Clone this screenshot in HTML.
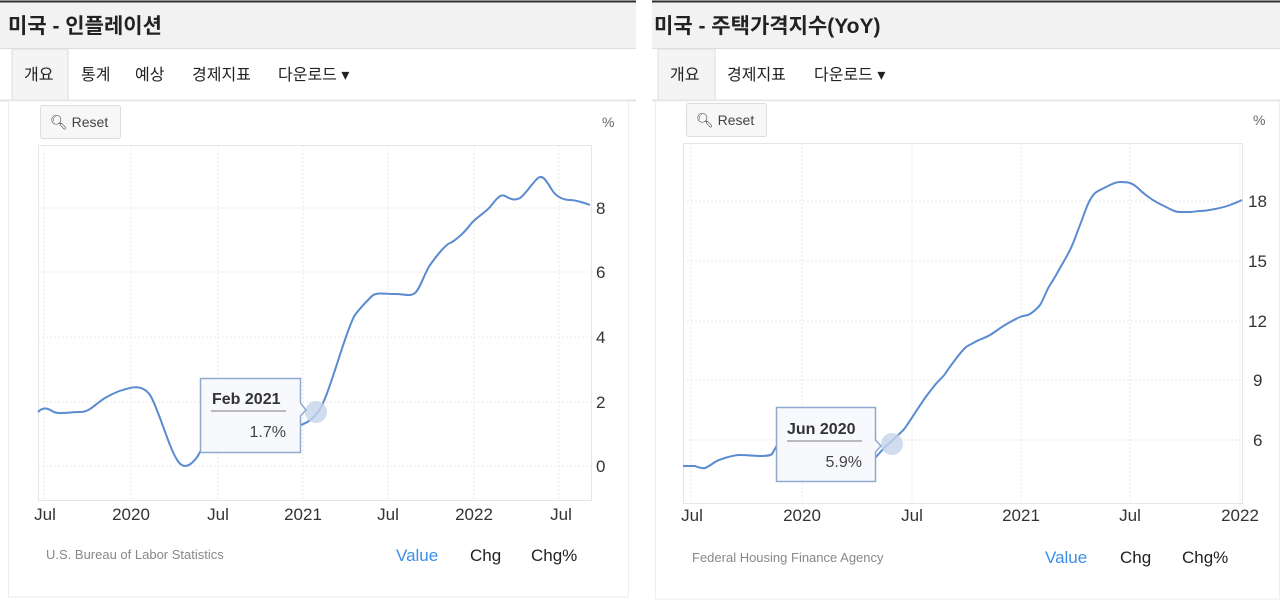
<!DOCTYPE html>
<html><head><meta charset="utf-8"><style>
html,body{margin:0;padding:0;background:#fff;}
svg{display:block;font-family:"Liberation Sans","Noto Sans CJK KR",sans-serif;}
</style></head><body>
<svg width="1280" height="604" viewBox="0 0 1280 604">
<rect width="1280" height="604" fill="#fff"/>
<!-- LEFT PANEL -->
<rect x="0" y="0" width="636" height="48" fill="#f2f2f2"/>
<line x1="0" y1="1.5" x2="636" y2="1.5" stroke="#333" stroke-width="2"/>
<line x1="0" y1="48.5" x2="636" y2="48.5" stroke="#ddd"/>
<text x="8" y="33" font-size="21" font-weight="bold" fill="#222">미국 - 인플레이션</text>
<rect x="12" y="49" width="56" height="52" fill="#f4f4f4" stroke="#ddd"/>
<line x1="0" y1="100.5" x2="636" y2="100.5" stroke="#e2e2e2" stroke-width="2"/>
<g font-size="16" fill="#222">
<text x="24" y="80">개요</text><text x="81" y="80">통계</text><text x="135" y="80">예상</text><text x="192" y="80">경제지표</text><text x="278" y="80">다운로드 ▾</text>
</g>
<rect x="8.5" y="101" width="620" height="496" fill="none" stroke="#eee"/>
<rect x="40.5" y="105.5" width="80" height="33" rx="2" fill="#f7f7f7" stroke="#ddd"/>
<text x="50" y="127" font-size="14" fill="#444">🔍︎ Reset</text>
<text x="602" y="127" font-size="14" fill="#666">%</text>
<g stroke="#eaeaea" stroke-dasharray="2,2">
<line x1="44" y1="145" x2="44" y2="500"/><line x1="131" y1="145" x2="131" y2="500"/><line x1="218" y1="145" x2="218" y2="500"/><line x1="303" y1="145" x2="303" y2="500"/><line x1="388" y1="145" x2="388" y2="500"/><line x1="474" y1="145" x2="474" y2="500"/><line x1="559" y1="145" x2="559" y2="500"/>
<line x1="38" y1="208" x2="592" y2="208"/><line x1="38" y1="272" x2="592" y2="272"/><line x1="38" y1="337" x2="592" y2="337"/><line x1="38" y1="402" x2="592" y2="402"/><line x1="38" y1="466" x2="592" y2="466"/>
</g>
<rect x="38.5" y="145.5" width="553" height="355" fill="none" stroke="#e6e6e6"/>
<g font-size="17" fill="#333">
<text x="596" y="214">8</text><text x="596" y="278">6</text><text x="596" y="343">4</text><text x="596" y="408">2</text><text x="596" y="472">0</text>
</g>
<g font-size="17" fill="#333" text-anchor="middle">
<text x="45" y="520">Jul</text><text x="131" y="520">2020</text><text x="218" y="520">Jul</text><text x="303" y="520">2021</text><text x="388" y="520">Jul</text><text x="474" y="520">2022</text><text x="561" y="520">Jul</text>
</g>
<path d="M38,412 C42,408 46,407 52,411 S70,412 80,412 S95,404 105,398 S122,390 130,388 S145,388 150,395 S164,430 170,445 S180,466 185,466 S196,460 200,452 L205,449 L300,425 C305,424 312,420 318,412 S330,385 335,370 S350,322 355,315 S368,300 372,296 S385,294 395,294 S410,297 415,293 S425,272 430,265 S445,245 450,243 S465,232 470,225 S485,213 490,207 S500,193 505,196 S515,201 520,198 S533,182 538,178 S547,182 552,190 S565,200 570,200 S585,203 590,205" fill="none" stroke="#5b8bd0" stroke-width="2"/>
<circle cx="316" cy="412" r="11" fill="#c5d5ea" opacity="0.8"/>
<path d="M200.5,378.5 H300.5 V403 L306,410 L300.5,416 V452.5 H200.5 Z" fill="#f7f9fc" stroke="#8fa9cf" stroke-width="1.5"/>
<text x="212" y="404" font-size="16" font-weight="bold" fill="#333">Feb 2021</text>
<line x1="211" y1="411" x2="286" y2="411" stroke="#bbb" stroke-width="2"/>
<text x="286" y="437" font-size="16" fill="#444" text-anchor="end">1.7%</text>
<text x="46" y="559" font-size="13" fill="#888">U.S. Bureau of Labor Statistics</text>
<text x="396" y="561" font-size="17" fill="#3a8ee6">Value</text>
<text x="470" y="561" font-size="17" fill="#222">Chg</text>
<text x="531" y="561" font-size="17" fill="#222">Chg%</text>

<!-- RIGHT PANEL -->
<rect x="652" y="0" width="628" height="48" fill="#f2f2f2"/>
<line x1="652" y1="1.5" x2="1280" y2="1.5" stroke="#333" stroke-width="2"/>
<line x1="652" y1="48.5" x2="1280" y2="48.5" stroke="#ddd"/>
<text x="654" y="33" font-size="21" font-weight="bold" fill="#222">미국 - 주택가격지수(YoY)</text>
<rect x="658" y="49" width="57" height="52" fill="#f4f4f4" stroke="#ddd"/>
<line x1="652" y1="100.5" x2="1280" y2="100.5" stroke="#e2e2e2" stroke-width="2"/>
<g font-size="16" fill="#222">
<text x="670" y="80">개요</text><text x="727" y="80">경제지표</text><text x="814" y="80">다운로드 ▾</text>
</g>
<rect x="655.5" y="101" width="624" height="498" fill="none" stroke="#eee"/>
<rect x="686.5" y="103.5" width="80" height="33" rx="2" fill="#f7f7f7" stroke="#ddd"/>
<text x="696" y="125" font-size="14" fill="#444">🔍︎ Reset</text>
<text x="1253" y="125" font-size="14" fill="#666">%</text>
<g stroke="#eaeaea" stroke-dasharray="2,2">
<line x1="691" y1="143" x2="691" y2="503"/><line x1="802" y1="143" x2="802" y2="503"/><line x1="912" y1="143" x2="912" y2="503"/><line x1="1021" y1="143" x2="1021" y2="503"/><line x1="1130" y1="143" x2="1130" y2="503"/><line x1="1240" y1="143" x2="1240" y2="503"/>
<line x1="683" y1="201" x2="1242" y2="201"/><line x1="683" y1="261" x2="1242" y2="261"/><line x1="683" y1="321" x2="1242" y2="321"/><line x1="683" y1="380" x2="1242" y2="380"/><line x1="683" y1="440" x2="1242" y2="440"/>
</g>
<rect x="683.5" y="143.5" width="559" height="360" fill="none" stroke="#e6e6e6"/>
<g font-size="17" fill="#333">
<text x="1248" y="207">18</text><text x="1248" y="267">15</text><text x="1248" y="327">12</text><text x="1253" y="386">9</text><text x="1253" y="446">6</text>
</g>
<g font-size="17" fill="#333" text-anchor="middle">
<text x="692" y="521">Jul</text><text x="802" y="521">2020</text><text x="912" y="521">Jul</text><text x="1021" y="521">2021</text><text x="1130" y="521">Jul</text><text x="1240" y="521">2022</text>
</g>
<path d="M683,466 L695,466 S702,469 705,468 S712,464 715,462 S732,455 740,455 S755,456 760,456 S770,456 772,454 L780,440 L875,458 C878,455 882,450 885,447 S892,441 895,438 S902,432 905,428 S920,405 925,398 S932,389 935,385 S943,377 945,374 S952,364 955,360 S962,351 965,348 S972,344 975,342 S985,338 990,335 S1000,328 1005,325 S1015,319 1020,317 S1027,316 1030,314 S1037,309 1040,305 S1046,291 1050,285 S1056,275 1060,268 S1066,258 1070,250 S1076,235 1080,225 S1086,207 1090,200 S1096,192 1100,190 S1108,186 1110,185 S1116,182 1120,182 S1127,182 1130,183 S1136,186 1140,190 S1146,195 1150,198 S1156,202 1160,204 S1166,207 1170,209 S1176,212 1180,212 S1186,212 1190,212 S1197,211 1200,211 S1210,210 1215,209 S1225,207 1230,205 S1238,202 1242,200" fill="none" stroke="#5b8bd0" stroke-width="2"/>
<circle cx="892" cy="444" r="11" fill="#c5d5ea" opacity="0.8"/>
<path d="M776.5,407.5 H875.5 V440 L881,446 L875.5,452 V481.5 H776.5 Z" fill="#f7f9fc" stroke="#8fa9cf" stroke-width="1.5"/>
<text x="787" y="434" font-size="16" font-weight="bold" fill="#333">Jun 2020</text>
<line x1="787" y1="441" x2="862" y2="441" stroke="#bbb" stroke-width="2"/>
<text x="862" y="467" font-size="16" fill="#444" text-anchor="end">5.9%</text>
<text x="692" y="562" font-size="13" fill="#888">Federal Housing Finance Agency</text>
<text x="1045" y="563" font-size="17" fill="#3a8ee6">Value</text>
<text x="1120" y="563" font-size="17" fill="#222">Chg</text>
<text x="1182" y="563" font-size="17" fill="#222">Chg%</text>
</svg>
</body></html>
